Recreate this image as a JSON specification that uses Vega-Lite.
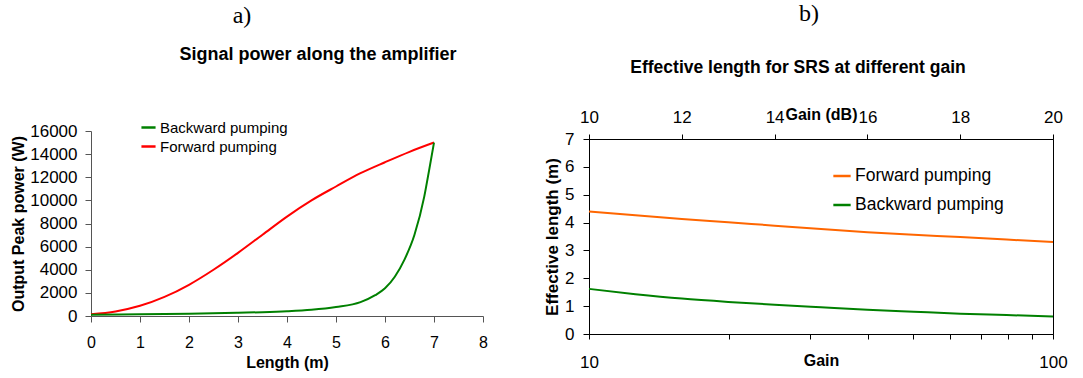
{
  "$schema": "https://vega.github.io/schema/vega-lite/v6.json",
  "background": "white",
  "padding": {"left": 10, "top": 2, "right": 5, "bottom": 2},
  "spacing": 55,
  "align": "none",
  "config": {
    "font": "Liberation Sans",
    "view": {"stroke": null},
    "axis": {
      "grid": false,
      "domainColor": "black",
      "tickColor": "black",
      "labelColor": "black",
      "titleColor": "black",
      "labelFont": "Liberation Sans",
      "titleFont": "Liberation Sans",
      "labelFontSize": 16,
      "titleFontSize": 16,
      "titleFontWeight": "bold",
      "tickSize": 6,
      "labelFlush": false,
      "labelOverlap": false
    },
    "legend": {"labelFont": "Liberation Sans", "labelColor": "black"}
  },
  "resolve": {"scale": {"color": "independent"}, "legend": {"color": "independent"}},
  "hconcat": [
    {
      "title": {"text": "a)", "font": "Liberation Serif", "fontSize": 24, "fontWeight": "normal", "anchor": "middle", "frame": "group", "dx": 151, "offset": 18, "color": "black"},
      "hconcat": [
        {
          "title": {"text": "Signal power along the amplifier", "fontSize": 18, "fontWeight": "bold", "anchor": "middle", "frame": "group", "dx": 31, "offset": 58, "color": "black"},
          "width": 392,
          "height": 177,
          "data": {"values": [
            {"len": 0, "power": 150, "series": "Forward pumping"},
            {"len": 0.5, "power": 390, "series": "Forward pumping"},
            {"len": 1, "power": 880, "series": "Forward pumping"},
            {"len": 1.5, "power": 1650, "series": "Forward pumping"},
            {"len": 2, "power": 2700, "series": "Forward pumping"},
            {"len": 2.5, "power": 4000, "series": "Forward pumping"},
            {"len": 3, "power": 5460, "series": "Forward pumping"},
            {"len": 3.5, "power": 7030, "series": "Forward pumping"},
            {"len": 4, "power": 8600, "series": "Forward pumping"},
            {"len": 4.5, "power": 10000, "series": "Forward pumping"},
            {"len": 5, "power": 11200, "series": "Forward pumping"},
            {"len": 5.5, "power": 12350, "series": "Forward pumping"},
            {"len": 6, "power": 13300, "series": "Forward pumping"},
            {"len": 6.5, "power": 14200, "series": "Forward pumping"},
            {"len": 7, "power": 15000, "series": "Forward pumping"},
            {"len": 0, "power": 110, "series": "Backward pumping"},
            {"len": 1, "power": 150, "series": "Backward pumping"},
            {"len": 2, "power": 200, "series": "Backward pumping"},
            {"len": 3, "power": 280, "series": "Backward pumping"},
            {"len": 3.5, "power": 330, "series": "Backward pumping"},
            {"len": 4, "power": 410, "series": "Backward pumping"},
            {"len": 4.5, "power": 540, "series": "Backward pumping"},
            {"len": 5, "power": 780, "series": "Backward pumping"},
            {"len": 5.5, "power": 1200, "series": "Backward pumping"},
            {"len": 5.8, "power": 1800, "series": "Backward pumping"},
            {"len": 6, "power": 2400, "series": "Backward pumping"},
            {"len": 6.2, "power": 3400, "series": "Backward pumping"},
            {"len": 6.4, "power": 4900, "series": "Backward pumping"},
            {"len": 6.6, "power": 7000, "series": "Backward pumping"},
            {"len": 6.8, "power": 10300, "series": "Backward pumping"},
            {"len": 6.9, "power": 12600, "series": "Backward pumping"},
            {"len": 7, "power": 15000, "series": "Backward pumping"}
          ]},
          "mark": {"type": "line", "strokeWidth": 2, "interpolate": "monotone", "clip": false},
          "encoding": {
            "x": {"field": "len", "type": "quantitative",
                  "scale": {"domain": [0, 8], "nice": false},
                  "axis": {"values": [0,1,2,3,4,5,6,7,8], "title": "Length (m)", "domainColor": "#555", "tickColor": "#555", "labelPadding": 12, "titlePadding": 4}},
            "y": {"field": "power", "type": "quantitative",
                  "scale": {"domain": [0, 16000], "nice": false, "range": [177, -8]},
                  "axis": {"values": [0,2000,4000,6000,8000,10000,12000,14000,16000], "format": "d", "title": "Output Peak power (W)", "domainColor": "#555", "tickColor": "#555", "labelPadding": 8, "labelFontSize": 17, "titlePadding": 3}},
            "color": {"field": "series", "type": "nominal",
                      "scale": {"domain": ["Backward pumping", "Forward pumping"], "range": ["#008000", "#FF0000"]},
                      "legend": {"title": null, "orient": "none", "legendX": 49, "legendY": -20, "symbolType": "stroke", "symbolSize": 200, "symbolStrokeWidth": 2.5, "labelFontSize": 15, "rowPadding": 2, "labelOffset": 3}},
            "order": {"field": "len", "type": "quantitative"}
          }
        }
      ]
    },
    {
      "title": {"text": "b)", "font": "Liberation Serif", "fontSize": 24, "fontWeight": "normal", "anchor": "middle", "frame": "group", "dx": 220, "offset": 32, "color": "black"},
      "hconcat": [
        {
          "title": {"text": "Effective length for SRS at different gain", "fontSize": 17.5, "fontWeight": "bold", "anchor": "middle", "frame": "group", "dx": -23, "offset": 30, "color": "black"},
          "width": 464,
          "height": 195,
          "view": {"stroke": "black", "strokeWidth": 1},
          "data": {"values": [
            {"gain": 10, "db": 10, "eff": 4.40, "curve": "Forward pumping"},
            {"gain": 12.59, "db": 11, "eff": 4.26, "curve": "Forward pumping"},
            {"gain": 15.85, "db": 12, "eff": 4.13, "curve": "Forward pumping"},
            {"gain": 19.95, "db": 13, "eff": 4.01, "curve": "Forward pumping"},
            {"gain": 25.12, "db": 14, "eff": 3.89, "curve": "Forward pumping"},
            {"gain": 31.62, "db": 15, "eff": 3.77, "curve": "Forward pumping"},
            {"gain": 39.81, "db": 16, "eff": 3.65, "curve": "Forward pumping"},
            {"gain": 50.12, "db": 17, "eff": 3.56, "curve": "Forward pumping"},
            {"gain": 63.10, "db": 18, "eff": 3.48, "curve": "Forward pumping"},
            {"gain": 79.43, "db": 19, "eff": 3.39, "curve": "Forward pumping"},
            {"gain": 100, "db": 20, "eff": 3.30, "curve": "Forward pumping"},
            {"gain": 10, "db": 10, "eff": 1.62, "curve": "Backward pumping"},
            {"gain": 12.59, "db": 11, "eff": 1.43, "curve": "Backward pumping"},
            {"gain": 15.85, "db": 12, "eff": 1.27, "curve": "Backward pumping"},
            {"gain": 19.95, "db": 13, "eff": 1.15, "curve": "Backward pumping"},
            {"gain": 25.12, "db": 14, "eff": 1.05, "curve": "Backward pumping"},
            {"gain": 31.62, "db": 15, "eff": 0.96, "curve": "Backward pumping"},
            {"gain": 39.81, "db": 16, "eff": 0.87, "curve": "Backward pumping"},
            {"gain": 50.12, "db": 17, "eff": 0.80, "curve": "Backward pumping"},
            {"gain": 63.10, "db": 18, "eff": 0.73, "curve": "Backward pumping"},
            {"gain": 79.43, "db": 19, "eff": 0.68, "curve": "Backward pumping"},
            {"gain": 100, "db": 20, "eff": 0.63, "curve": "Backward pumping"}
          ]},
          "resolve": {"scale": {"x": "independent"}, "axis": {"x": "independent"}},
          "layer": [
            {
              "mark": {"type": "line", "strokeWidth": 2, "interpolate": "monotone"},
              "encoding": {
                "x": {"field": "gain", "type": "quantitative",
                      "scale": {"type": "log", "domain": [10, 100], "nice": false},
                      "axis": {"orient": "bottom", "values": [10,20,30,40,50,60,70,80,90,100], "format": "d", "labelExpr": "datum.value == 10 || datum.value == 100 ? datum.label : ''", "title": "Gain", "tickSize": 5, "labelPadding": 15, "titlePadding": -18, "labelFontSize": 17}},
                "y": {"field": "eff", "type": "quantitative",
                      "scale": {"domain": [0, 7], "nice": false},
                      "axis": {"values": [0,1,2,3,4,5,6,7], "title": "Effective length (m)", "tickSize": 6, "labelPadding": 9, "labelFontSize": 17, "titleFontSize": 17, "titlePadding": 3}},
                "color": {"field": "curve", "type": "nominal",
                          "scale": {"domain": ["Forward pumping", "Backward pumping"], "range": ["#FF6600", "#008000"]},
                          "legend": {"title": null, "orient": "none", "legendX": 243, "legendY": 27, "symbolType": "stroke", "symbolSize": 300, "symbolStrokeWidth": 2.5, "labelFontSize": 17.5, "rowPadding": 10, "labelOffset": 3}}
              }
            },
            {
              "mark": {"type": "point", "opacity": 0},
              "encoding": {
                "x": {"field": "db", "type": "quantitative",
                      "scale": {"domain": [10, 20], "nice": false},
                      "axis": {"orient": "top", "values": [10,12,14,16,18,20], "title": "Gain (dB)", "tickSize": 5, "labelPadding": 8, "labelFontSize": 17, "titlePadding": -14}}
              }
            }
          ]
        }
      ]
    }
  ]
}
